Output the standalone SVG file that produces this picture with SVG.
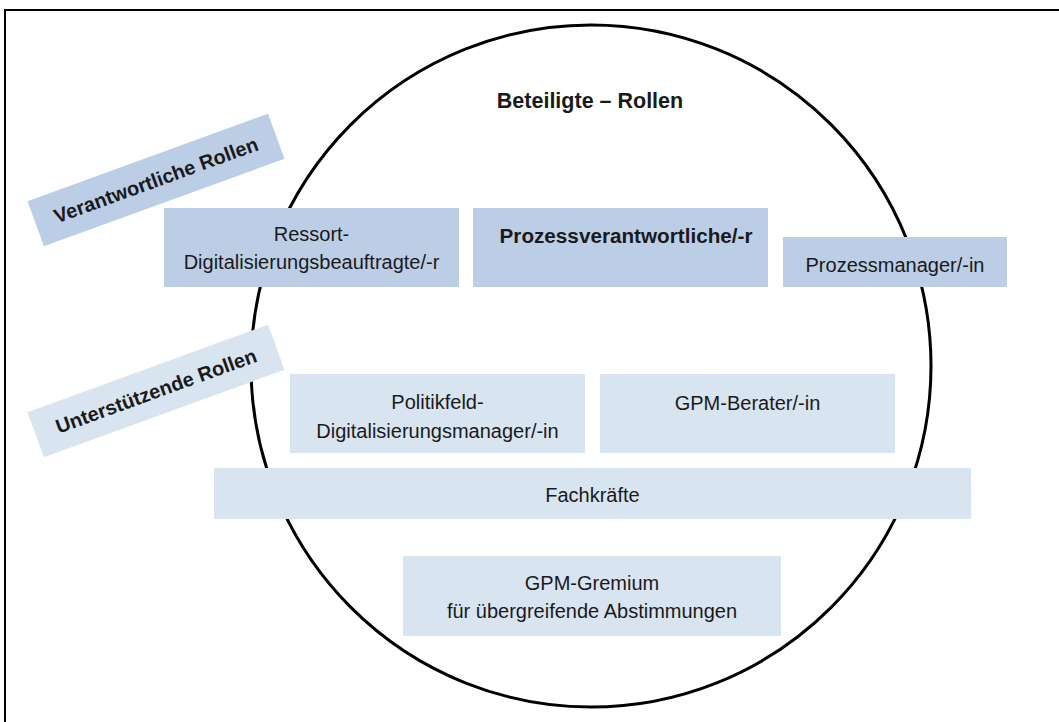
<svg xmlns="http://www.w3.org/2000/svg" width="1059" height="722" viewBox="0 0 1059 722">
<style>
.dark{fill:#bccee6}
.light{fill:#d9e4f1}
text{font-family:"Liberation Sans",Arial,sans-serif;fill:#1a1a1a;text-anchor:middle}
.t{font-size:20px}
.b{font-size:20px;font-weight:bold}
</style>
<rect width="1059" height="722" fill="#ffffff"/>
<path d="M5,722 V10 H1059" fill="none" stroke="#000" stroke-width="2"/>
<g id="circle">
<ellipse cx="591" cy="366" rx="340" ry="341" fill="none" stroke="#000" stroke-width="3"/>
</g>
<g id="title"><text class="b" x="590" y="108" style="font-size:21.5px">Beteiligte – Rollen</text></g>
<g id="verantwortliche" transform="rotate(-20 156 180)">
<rect class="dark" x="28" y="156" width="256" height="48"/>
<text class="b" x="156" y="187">Verantwortliche Rollen</text>
</g>
<g id="unterstuetzende" transform="rotate(-20 156 391)">
<rect class="light" x="28" y="367" width="256" height="48"/>
<text class="b" x="156" y="398">Unterstützende Rollen</text>
</g>
<g id="ressort">
<rect class="dark" x="164" y="208" width="295" height="79"/>
<text class="t" x="311.5" y="241">Ressort-</text>
<text class="t" x="311.5" y="269">Digitalisierungsbeauftragte/-r</text>
</g>
<g id="prozessverantwortliche">
<rect class="dark" x="473" y="208" width="295" height="79"/>
<text class="b" x="626" y="243" style="font-size:20.7px">Prozessverantwortliche/-r</text>
</g>
<g id="prozessmanager">
<rect class="dark" x="783" y="237" width="224" height="50"/>
<text class="t" x="895" y="272">Prozessmanager/-in</text>
</g>
<g id="politikfeld">
<rect class="light" x="290" y="374" width="295" height="79"/>
<text class="t" x="437.5" y="409">Politikfeld-</text>
<text class="t" x="437.5" y="438">Digitalisierungsmanager/-in</text>
</g>
<g id="gpmberater">
<rect class="light" x="600" y="374" width="295" height="79"/>
<text class="t" x="747.5" y="410">GPM-Berater/-in</text>
</g>
<g id="fachkraefte">
<rect class="light" x="214" y="468" width="757" height="51"/>
<text class="t" x="592.5" y="502">Fachkräfte</text>
</g>
<g id="gremium">
<rect class="light" x="403" y="556" width="378" height="80"/>
<text class="t" x="592" y="590">GPM-Gremium</text>
<text class="t" x="592" y="618">für übergreifende Abstimmungen</text>
</g>
<g id="connectors"></g>
</svg>
